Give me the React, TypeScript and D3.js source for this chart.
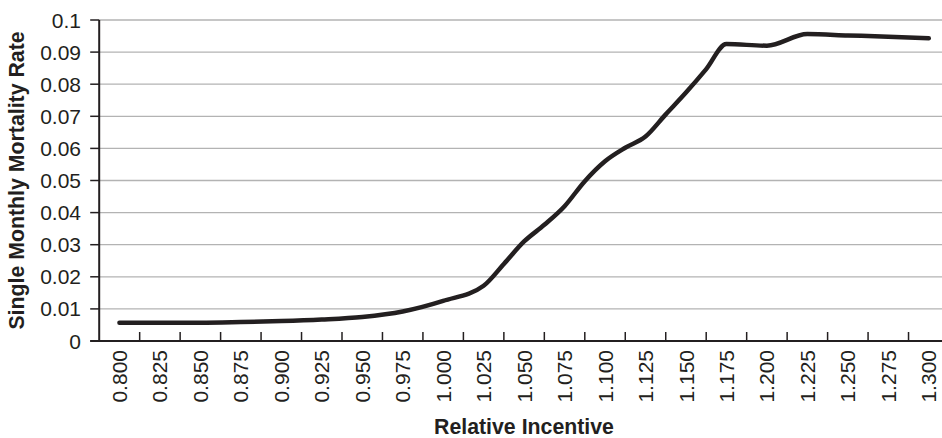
import * as d3 from "d3";

// relative incentive (x) and single monthly mortality (y)
const incentive = [
  0.8, 0.825, 0.85, 0.875, 0.9, 0.925, 0.95, 0.975, 1.0, 1.025, 1.0375, 1.05,
  1.0625, 1.075, 1.0875, 1.1, 1.1125, 1.125, 1.1375, 1.15, 1.1625, 1.175, 1.2,
  1.225, 1.25, 1.275, 1.3,
];
const mortality = [
  0.0057, 0.0057, 0.0057, 0.0059, 0.0062, 0.0067, 0.0075, 0.0092, 0.0125,
  0.0172, 0.024, 0.031, 0.0362, 0.042, 0.0498, 0.056, 0.0602, 0.0637, 0.0706,
  0.0774, 0.0847, 0.0925, 0.092, 0.0956, 0.0952, 0.0948, 0.0943,
];

const xTickLabels = [
  "0.800", "0.825", "0.850", "0.875", "0.900", "0.925", "0.950", "0.975",
  "1.000", "1.025", "1.050", "1.075", "1.100", "1.125", "1.150", "1.175",
  "1.200", "1.225", "1.250", "1.275", "1.300",
];
const yTicks = [0, 0.01, 0.02, 0.03, 0.04, 0.05, 0.06, 0.07, 0.08, 0.09, 0.1];

const W = 942;
const H = 438;
const ink = "#231f20";
const font = "'Liberation Sans', Arial, Helvetica, sans-serif";

export default function App() {
  const step = 0.025;
  const x = d3
    .scaleLinear()
    .domain([0.8 - step / 2, 1.3 + step / 2])
    .range([99.2, 949]);
  const y = d3.scaleLinear().domain([0, 0.1]).range([341, 20]);

  const points = incentive.map((v, i) => [v, mortality[i]] as [number, number]);
  const line = d3
    .line<[number, number]>()
    .x((d) => x(d[0]))
    .y((d) => y(d[1]))
    .curve(d3.curveMonotoneX);

  // category boundaries for the tick marks
  const boundaries = xTickLabels.slice(1).map((l) => +l - step / 2);
  const [x0, x1] = x.range();

  return (
    <svg
      width={W}
      height={H}
      style={{ position: "absolute", left: 0, top: 0, background: "#fff" }}
      fontFamily={font}
    >
      {/* gridlines */}
      {yTicks.slice(1).map((t) => (
        <line key={t} x1={x0} x2={x1} y1={y(t)} y2={y(t)} stroke="#b3b3b3" strokeWidth={1.3} />
      ))}

      {/* y axis */}
      <line x1={x0} x2={x0} y1={y(0.1)} y2={y(0) + 1} stroke={ink} strokeWidth={2} />
      {yTicks.map((t) => (
        <g key={t}>
          <line x1={x0 - 9} x2={x0} y1={y(t)} y2={y(t)} stroke={ink} strokeWidth={1.5} />
          <text x={81} y={y(t)} dy="0.36em" textAnchor="end" fontSize={21} fill={ink}>
            {String(+t.toFixed(2))}
          </text>
        </g>
      ))}

      {/* x axis */}
      <line x1={x0 - 9} x2={x1} y1={y(0)} y2={y(0)} stroke={ink} strokeWidth={2} />
      {boundaries.map((b) => (
        <line key={b} x1={x(b)} x2={x(b)} y1={y(0) - 9} y2={y(0)} stroke={ink} strokeWidth={1.5} />
      ))}
      {xTickLabels.map((l) => (
        <text
          key={l}
          transform={`translate(${x(+l)},350) rotate(-90)`}
          dy="0.36em"
          textAnchor="end"
          fontSize={21}
          fill={ink}
        >
          {l}
        </text>
      ))}

      {/* series */}
      <path
        d={line(points) ?? ""}
        fill="none"
        stroke={ink}
        strokeWidth={4.5}
        strokeLinecap="round"
        strokeLinejoin="round"
      />

      {/* titles */}
      <text x={524} y={434} textAnchor="middle" fontSize={21.3} fontWeight="bold" fill={ink}>
        Relative Incentive
      </text>
      <text
        transform={`translate(24,${(y(0) + y(0.1)) / 2}) rotate(-90)`}
        textAnchor="middle"
        fontSize={21.3}
        fontWeight="bold"
        fill={ink}
      >
        Single Monthly Mortality Rate
      </text>
    </svg>
  );
}
